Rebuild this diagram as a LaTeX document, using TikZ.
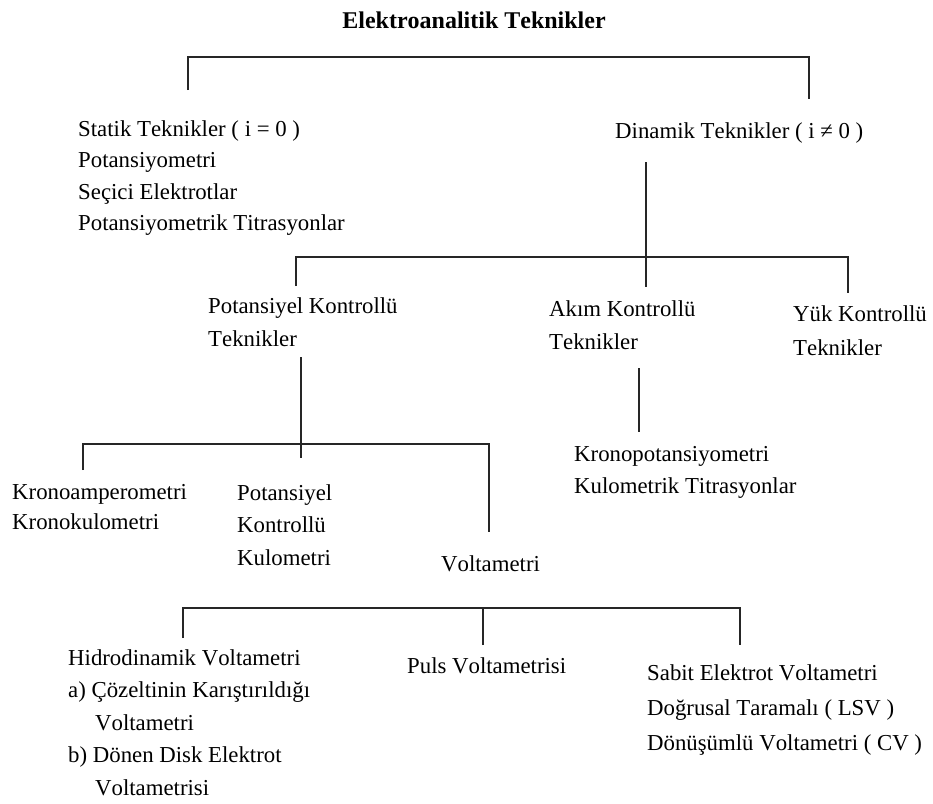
\documentclass[tikz,border=0pt]{standalone}
\usepackage{fontspec}
\setmainfont{Liberation Serif}[Kerning=Off]
\usetikzlibrary{positioning}

\newcommand{\lsk}[1]{\fontsize{22.8}{#1}\selectfont}
\tikzset{
  lbl/.style={anchor=base west,inner sep=0pt,align=left,font=\lsk{31.5}},
  hdr/.style={anchor=base,inner sep=0pt,font=\bfseries\fontsize{24}{28}\selectfont},
  tree/.style={line width=1.1pt,color=black!85}
}

\begin{document}
\begin{tikzpicture}[x=1pt,y=-1pt]
    \useasboundingbox (0,0) rectangle (933,803);
    \node[hdr] (root) at (474,28) {Elektroanalitik Teknikler};
    \node[lbl] (stat) at (78,230.5)
      {Statik Teknikler ( i = 0 )\\Potansiyometri\\Seçici Elektrotlar\\Potansiyometrik Titrasyonlar};
    \node[lbl] (dyn) at (615,138) {Dinamik Teknikler ( i ≠ 0 )};
    \node[lbl,font=\lsk{33}] (potk) at (208,346) {Potansiyel Kontrollü\\Teknikler};
    \node[lbl,font=\lsk{33}] (akim) at (549,349) {Akım Kontrollü\\Teknikler};
    \node[lbl,font=\lsk{34}] (yuk) at (793,355) {Yük Kontrollü\\Teknikler};
    \node[lbl,font=\lsk{32}] (kpot) at (574,493) {Kronopotansiyometri\\Kulometrik Titrasyonlar};
    \node[lbl,font=\lsk{30}] (kamp) at (12,529) {Kronoamperometri\\Kronokulometri};
    \node[lbl,font=\lsk{32.5}] (pkk) at (237,565) {Potansiyel\\Kontrollü\\Kulometri};
    \node[lbl] (volt) at (441,571) {Voltametri};
    \node[lbl,font=\lsk{32.5}] (hidro) at (68,795)
      {Hidrodinamik Voltametri\\a) Çözeltinin Karıştırıldığı\\\hspace*{27pt}Voltametri\\b) Dönen Disk Elektrot\\\hspace*{27pt}Voltametrisi};
    \node[lbl] (puls) at (407,673) {Puls Voltametrisi};
    \node[lbl,font=\lsk{35}] (sabit) at (647,750)
      {Sabit Elektrot Voltametri\\Doğrusal Taramalı ( LSV )\\Dönüşümlü Voltametri ( CV )};

    \coordinate (bar1) at (0,57);
    \coordinate (bar2) at (0,257);
    \coordinate (bar3) at (0,444);
    \coordinate (bar4) at (0,608);
    \coordinate (s0) at (188,90);
    \coordinate (d0) at (809,99);
    \coordinate (d1) at (646,162);
    \coordinate (d2) at (646,287);
    \coordinate (p0) at (296,286);
    \coordinate (y0) at (848,293);
    \coordinate (p1) at (301,357);
    \coordinate (p2) at (301,458);
    \coordinate (k0) at (83,470);
    \coordinate (v0) at (489,532);
    \coordinate (a1) at (639,368);
    \coordinate (a2) at (639,432);
    \coordinate (h0) at (183,638);
    \coordinate (u0) at (483,645);
    \coordinate (e0) at (740,645);

    \draw[tree] (s0) -- (s0 |- bar1) -| (d0);
    \draw[tree] (d1) -- (d2);
    \draw[tree] (p0) -- (p0 |- bar2) -| (y0);
    \draw[tree] (p1) -- (p2);
    \draw[tree] (k0) -- (k0 |- bar3) -| (v0);
    \draw[tree] (a1) -- (a2);
    \draw[tree] (h0) -- (h0 |- bar4) -| (e0);
    \draw[tree] (u0) -- (u0 |- bar4);
  \end{tikzpicture}
\end{document}
